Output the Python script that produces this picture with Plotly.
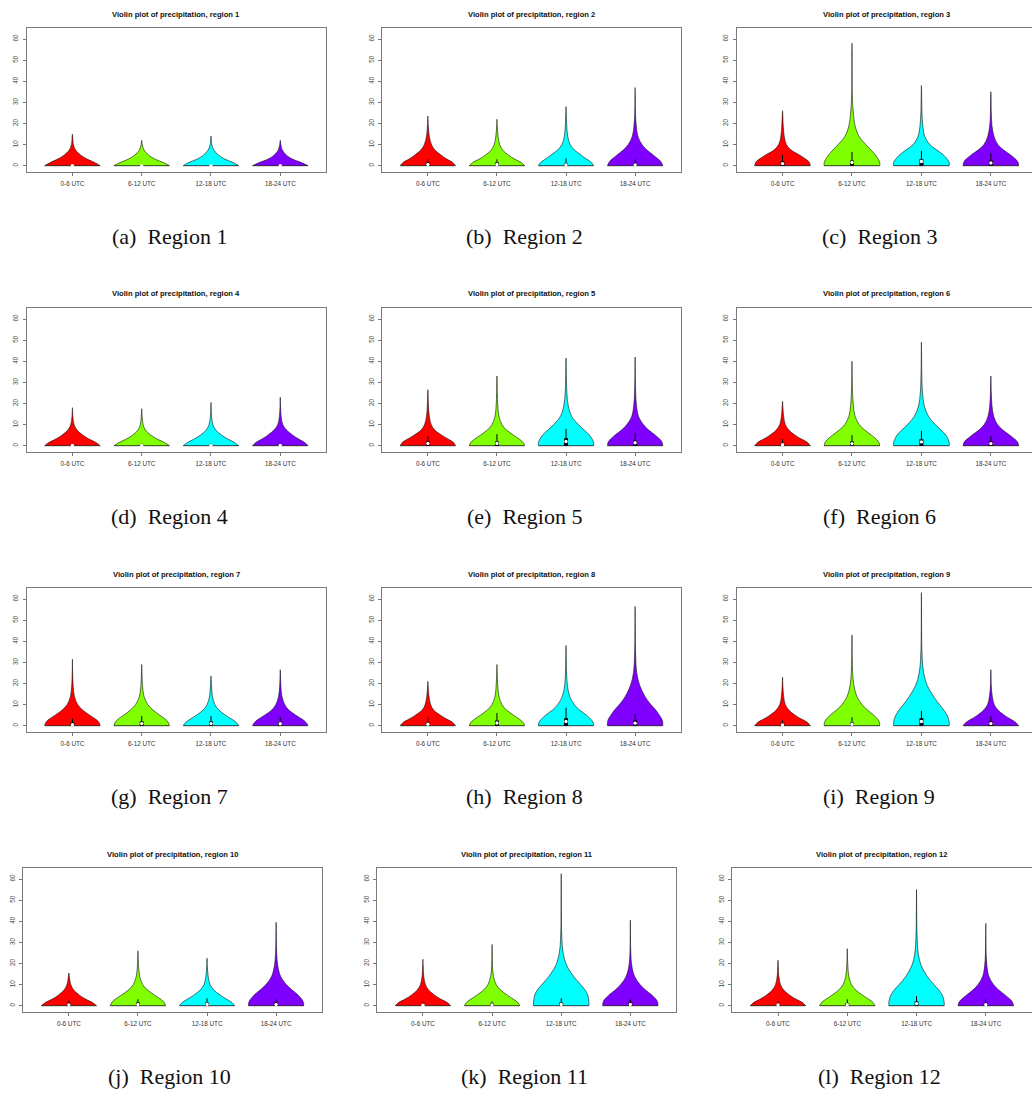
import plotly.graph_objects as go

# ---------------- data ----------------
periods = ["0-6 UTC", "6-12 UTC", "12-18 UTC", "18-24 UTC"]
colors = ["#FF0000", "#80FF00", "#00FFFF", "#8000FF"]
y_ticks = [0, 10, 20, 30, 40, 50, 60]

# heights (mm) at which the violin half-widths are read
levels = [0, 1.5, 3, 5, 7.5, 10, 14, 19, 25, 33, 45, 55]

# maximum value (tip of the violin tail) per region, per period
tops = [
    [15, 12, 14, 12],
    [23.5, 22, 28, 37],
    [26, 58, 38, 35],
    [18, 17.5, 20.5, 23],
    [26.5, 33, 41.5, 42],
    [21, 40, 49, 33],
    [31.5, 29, 23.5, 26.5],
    [21, 29, 38, 56.5],
    [23, 43, 63, 26.5],
    [15.5, 26, 22.5, 39.5],
    [22, 29, 62.5, 40.5],
    [21.5, 27, 55, 39],
]

# relative density half-widths at `levels` (1 = widest)
widths_r1 = [
    [1, 0.8, 0.55, 0.3, 0.11, 0.035, 0.008],
    [1, 0.78, 0.5, 0.25, 0.08, 0.02],
    [1, 0.8, 0.52, 0.27, 0.1, 0.03],
    [1, 0.76, 0.46, 0.22, 0.07, 0.02],
]
widths_r2 = [
    [1, 0.9, 0.7, 0.48, 0.25, 0.13, 0.05, 0.015],
    [1, 0.88, 0.66, 0.42, 0.2, 0.1, 0.04, 0.01],
    [1, 0.92, 0.76, 0.55, 0.3, 0.15, 0.06, 0.025, 0.008],
    [1, 0.95, 0.85, 0.66, 0.42, 0.25, 0.1, 0.04, 0.012, 0.004],
]
widths_r3 = [
    [1, 0.97, 0.85, 0.62, 0.3, 0.14, 0.06, 0.025, 0.006],
    [1, 1, 0.95, 0.85, 0.68, 0.5, 0.25, 0.11, 0.05, 0.012, 0.005, 0.003],
    [1, 1, 0.93, 0.8, 0.55, 0.3, 0.12, 0.05, 0.02, 0.008],
    [1, 0.98, 0.9, 0.72, 0.45, 0.25, 0.11, 0.04, 0.015, 0.005],
]
widths_r4 = [
    [1, 0.85, 0.62, 0.38, 0.16, 0.06, 0.015],
    [1, 0.82, 0.58, 0.33, 0.13, 0.05, 0.015],
    [1, 0.85, 0.63, 0.38, 0.17, 0.07, 0.02, 0.005],
    [1, 0.88, 0.68, 0.45, 0.22, 0.09, 0.03, 0.008],
]
widths_r5 = [
    [1, 0.93, 0.75, 0.5, 0.24, 0.12, 0.05, 0.02, 0.005],
    [1, 0.95, 0.82, 0.6, 0.34, 0.18, 0.07, 0.03, 0.012],
    [1, 1, 0.95, 0.85, 0.65, 0.45, 0.2, 0.08, 0.03, 0.012],
    [1, 0.98, 0.9, 0.73, 0.48, 0.3, 0.12, 0.05, 0.02, 0.006],
]
widths_r6 = [
    [1, 0.9, 0.7, 0.45, 0.22, 0.1, 0.04, 0.01],
    [1, 0.97, 0.88, 0.7, 0.45, 0.26, 0.11, 0.05, 0.02, 0.006],
    [1, 1, 0.96, 0.88, 0.7, 0.5, 0.25, 0.1, 0.04, 0.015, 0.004],
    [1, 0.97, 0.87, 0.68, 0.42, 0.24, 0.1, 0.04, 0.015],
]
widths_r7 = [
    [1, 0.96, 0.85, 0.62, 0.36, 0.19, 0.07, 0.025, 0.008],
    [1, 0.96, 0.86, 0.65, 0.4, 0.22, 0.08, 0.03, 0.01],
    [1, 0.92, 0.76, 0.52, 0.28, 0.14, 0.05, 0.02],
    [1, 0.93, 0.8, 0.56, 0.3, 0.16, 0.06, 0.02, 0.006],
]
widths_r8 = [
    [1, 0.9, 0.7, 0.45, 0.2, 0.1, 0.04, 0.008],
    [1, 0.95, 0.82, 0.6, 0.34, 0.18, 0.07, 0.03, 0.008],
    [1, 0.98, 0.9, 0.74, 0.48, 0.3, 0.13, 0.05, 0.02, 0.007],
    [1, 1, 0.97, 0.88, 0.74, 0.57, 0.35, 0.17, 0.06, 0.02, 0.005, 0.002],
]
widths_r9 = [
    [1, 0.9, 0.7, 0.45, 0.22, 0.1, 0.04, 0.012],
    [1, 0.99, 0.93, 0.78, 0.55, 0.36, 0.17, 0.07, 0.025, 0.008],
    [1, 1, 0.98, 0.92, 0.8, 0.65, 0.43, 0.21, 0.08, 0.025, 0.006, 0.002],
    [1, 0.9, 0.72, 0.48, 0.25, 0.12, 0.05, 0.015, 0.004],
]
widths_r10 = [
    [1, 0.85, 0.62, 0.38, 0.17, 0.07, 0.015],
    [1, 0.95, 0.83, 0.6, 0.34, 0.17, 0.06, 0.02, 0.004],
    [1, 0.9, 0.72, 0.48, 0.24, 0.11, 0.04, 0.01],
    [1, 0.99, 0.93, 0.8, 0.57, 0.37, 0.16, 0.06, 0.02, 0.006],
]
widths_r11 = [
    [1, 0.88, 0.66, 0.42, 0.2, 0.09, 0.03, 0.008],
    [1, 0.93, 0.78, 0.55, 0.3, 0.15, 0.05, 0.015, 0.005],
    [1, 1, 0.99, 0.96, 0.86, 0.7, 0.44, 0.2, 0.07, 0.02, 0.005, 0.002],
    [1, 0.99, 0.93, 0.78, 0.54, 0.35, 0.15, 0.05, 0.015, 0.004],
]
widths_r12 = [
    [1, 0.88, 0.66, 0.42, 0.2, 0.09, 0.03, 0.008],
    [1, 0.93, 0.78, 0.55, 0.3, 0.15, 0.055, 0.02, 0.005],
    [1, 1, 0.98, 0.93, 0.8, 0.63, 0.38, 0.17, 0.06, 0.02, 0.005],
    [1, 0.97, 0.88, 0.7, 0.46, 0.28, 0.11, 0.04, 0.012, 0.004],
]
widths = [widths_r1, widths_r2, widths_r3, widths_r4, widths_r5, widths_r6,
          widths_r7, widths_r8, widths_r9, widths_r10, widths_r11, widths_r12]

# inner boxplot: lower quartile is 0 everywhere
q1s = [[0, 0, 0, 0]] * 12
q3s = [
    [0.3, 0.3, 0.3, 0.3], [1.5, 1.5, 1.0, 1.0], [2, 2.5, 3, 2.5], [0.4, 0.4, 0.4, 0.4],
    [2, 2, 3.5, 2.5], [1, 2, 3, 2], [1.5, 2, 2, 1.8], [1.5, 2.5, 3.5, 2.5],
    [1, 1.5, 3.5, 2], [1, 1.5, 1.5, 1.5], [0.5, 1, 1.5, 1.5], [0.8, 1.2, 2, 1.2],
]
medians = [
    [0.05, 0.05, 0.05, 0.05], [0.6, 0.6, 0.4, 0.4], [1, 1.5, 2, 1.3], [0.1, 0.1, 0.1, 0.1],
    [1.1, 1.1, 2, 1.4], [0.5, 1, 1.8, 1], [0.5, 1, 1, 0.9], [0.7, 1.3, 2, 1.2],
    [0.4, 0.7, 2, 1], [0.4, 0.6, 0.7, 0.6], [0.2, 0.4, 0.6, 0.6], [0.3, 0.5, 1, 0.5],
]
whiskers = [
    [0.8, 0.8, 0.8, 0.8], [3, 3, 3.5, 3], [5, 6.5, 7, 6], [1, 1, 1, 1],
    [4.5, 5.5, 8, 6], [3, 5, 7, 4.5], [3.5, 4.5, 4.5, 4], [4, 6, 8.5, 5.5],
    [2.5, 4, 7, 4.5], [2.5, 3, 3.5, 3], [1.5, 2, 3.5, 3], [2, 3, 4.5, 3],
]
captions = ["(a)", "(b)", "(c)", "(d)", "(e)", "(f)", "(g)", "(h)", "(i)", "(j)", "(k)", "(l)"]

# ---------------- layout geometry (pixels) ----------------
W, H = 1032, 1093
MAXW = 0.4          # max half-width of a violin (x units)
cols_top = [(26.7, 326.0), (382.3, 680.7), (736.7, 1036.7)]
cols_last = [(23.3, 321.7), (377.3, 676.0), (732.3, 1031.5)]
rows = [(28.3, 171.7), (308.3, 451.7), (588.3, 731.7), (868.3, 1011.7)]
XR = (0.34, 4.66)
YR = (-2.84, 65.07)
caption_x = [169, 524, 879]
caption_y0 = 236

fig = go.Figure()
layout = {}
annotations = []

for r in range(12):
    row, col = divmod(r, 3)
    x0, x1 = (cols_last if row == 3 else cols_top)[col]
    y0, y1 = rows[row]
    xr_hi = XR[1]
    x1c = x1
    if x1 > W:
        xr_hi = XR[0] + (XR[1] - XR[0]) * (W - x0) / (x1 - x0)
        x1c = W
    ax = "" if r == 0 else str(r + 1)
    xa, ya = "x" + ax, "y" + ax

    base_x, base_y = [], []
    wh_x, wh_y = [], []
    bx_x, bx_y = [], []
    md_x, md_y = [], []
    for k in range(4):
        c = k + 1
        top = tops[r][k]
        pts = [(lv, w) for lv, w in zip(levels, widths[r][k]) if lv < top] + [(top, 0.0)]
        left = [(c - MAXW * w, lv) for lv, w in pts]
        right = [(c + MAXW * w, lv) for lv, w in reversed(pts[:-1])]
        poly = left + right
        fig.add_trace(go.Scatter(
            x=[p[0] for p in poly], y=[p[1] for p in poly],
            mode="lines", fill="toself", fillcolor=colors[k],
            line=dict(color="#111111", width=0.6, shape="spline", smoothing=1.0),
            xaxis=xa, yaxis=ya, hoverinfo="skip", showlegend=False))
        w0 = MAXW * pts[0][1]
        base_x += [c - w0, c + w0, None]
        base_y += [0, 0, None]
        wh_x += [c, c, None]
        wh_y += [q1s[r][k], whiskers[r][k], None]
        bx_x += [c, c, None]
        bx_y += [q1s[r][k], q3s[r][k], None]
        md_x.append(c)
        md_y.append(medians[r][k])

    fig.add_trace(go.Scatter(x=base_x, y=base_y, mode="lines",
                             line=dict(color="#111111", width=0.8),
                             xaxis=xa, yaxis=ya, hoverinfo="skip", showlegend=False))
    fig.add_trace(go.Scatter(x=wh_x, y=wh_y, mode="lines",
                             line=dict(color="black", width=1),
                             xaxis=xa, yaxis=ya, hoverinfo="skip", showlegend=False))
    fig.add_trace(go.Scatter(x=bx_x, y=bx_y, mode="lines",
                             line=dict(color="black", width=4),
                             xaxis=xa, yaxis=ya, hoverinfo="skip", showlegend=False))
    fig.add_trace(go.Scatter(x=md_x, y=md_y, mode="markers",
                             marker=dict(color="white", size=3.4, line=dict(width=0)),
                             xaxis=xa, yaxis=ya, hoverinfo="skip", showlegend=False))

    layout["xaxis" + ax] = dict(
        domain=[x0 / W, x1c / W], range=[XR[0], xr_hi], anchor=ya,
        tickmode="array", tickvals=[1, 2, 3, 4], ticktext=periods,
        ticks="outside", ticklen=3, tickcolor="#555555", tickwidth=0.8,
        tickfont=dict(family="Liberation Sans, Arial", size=6.3, color="#333333"),
        showline=True, mirror=True, linecolor="#7a7a7a", linewidth=1,
        showgrid=False, zeroline=False, fixedrange=True, ticklabelstandoff=3)
    layout["yaxis" + ax] = dict(
        domain=[1 - y1 / H, 1 - y0 / H], range=list(YR), anchor=xa,
        tickmode="array", tickvals=y_ticks, tickangle=-90,
        ticks="outside", ticklen=3, tickcolor="#555555", tickwidth=0.8,
        tickfont=dict(family="Liberation Sans, Arial", size=6.3, color="#444444"),
        showline=True, mirror=True, linecolor="#7a7a7a", linewidth=1,
        showgrid=False, zeroline=False, fixedrange=True, ticklabelstandoff=2)

    annotations.append(dict(
        xref="paper", yref="paper", x=((x0 + x1) / 2) / W, y=1 - (y0 - 14.3) / H,
        text="<b>Violin plot of precipitation, region %d</b>" % (r + 1),
        showarrow=False, xanchor="center", yanchor="middle",
        font=dict(family="Liberation Sans, Arial", size=7.6, color="#111111")))
    annotations.append(dict(
        xref="paper", yref="paper", x=caption_x[col] / W,
        y=1 - (caption_y0 + 280 * row) / H,
        text="%s\u00a0\u00a0Region %d" % (captions[r], r + 1),
        showarrow=False, xanchor="center", yanchor="middle",
        font=dict(family="Liberation Serif, DejaVu Serif, serif", size=22, color="#111111")))

fig.update_layout(
    width=W, height=H, margin=dict(l=0, r=0, t=0, b=0),
    paper_bgcolor="white", plot_bgcolor="white", showlegend=False,
    annotations=annotations, **layout)

fig.write_html(
    "out.html",
    config={"displayModeBar": False, "staticPlot": True},
    post_script="document.body.style.margin='0';document.body.style.overflow='hidden';")
